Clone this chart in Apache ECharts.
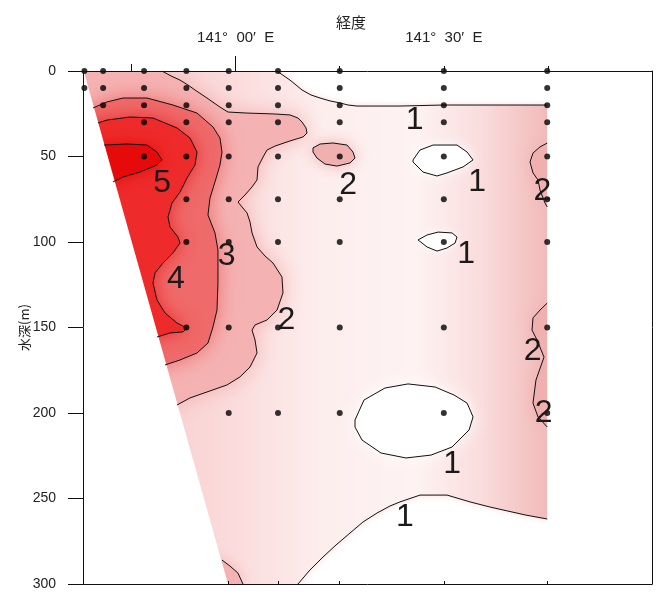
<!DOCTYPE html>
<html><head><meta charset="utf-8">
<script src="https://cdn.jsdelivr.net/npm/echarts@6/dist/echarts.min.js"></script>
<style>html,body{margin:0;padding:0;background:#fff}#c{width:656px;height:596px}</style>
</head><body><div id="c"></div>
<script>
// ---------- DATA (longitude in minutes east of 141°00′E, depth in m) ----------
const lonLabelValues = [0, 30];
const lonLabelTexts = ['141°  00′  E', '141°  30′  E'];
const lonMajorTick = [0];
const lonMinorTick = [-15];
const lonStationTopTicks = [15, 30, 45];
const lonBottomTicks = [-1.0, 6.1, 15.0, 30.0, 44.9];

const stationLon = [-21.8, -19.1, -13.2, -7.1, -1.0, 6.1, 15.0, 30.0, 44.9];
const stationDepths = [
  [0, 10],
  [0, 10, 20],
  [0, 10, 20, 30, 50],
  [0, 10, 20, 30, 50, 75, 100, 150],
  [0, 10, 20, 30, 50, 75, 100, 150, 200],
  [0, 10, 20, 30, 50, 75, 100, 150, 200],
  [0, 10, 20, 30, 50, 75, 100, 150, 200],
  [0, 10, 20, 30, 50, 75, 100, 150, 200],
  [0, 10, 20, 30, 50, 75, 100, 150, 200]
];

const seabed = [[-21.9, 0], [-1.1, 300]];
const sectionEastLon = 44.9;

const c1Top = [[5.96,0],[6.97,2.9],[7.83,5.3],[8.7,8.2],[9.56,11.1],[10.85,14.0],[12.16,15.8],[13.6,17.5],[15.04,18.7],[16.2,19.9],[17.49,20.5],[23.68,20.5],[29.88,19.9],[44.9,19.9]];
const c1Bottom = [[8.98,300],[10.71,291.8],[12.59,284.2],[14.46,277.2],[16.48,270.2],[18.36,263.7],[20.37,258.5],[22.24,254.4],[23.68,252.0],[26.57,248.0],[30.46,248.0],[33.78,252.0],[36.67,255.0],[38.53,256.7],[41.7,259.6],[44.9,262.0]];
const c1Loop50 = [[25.56,52.0],[26.57,46.2],[28.45,43.3],[31.90,43.3],[33.35,47.4],[34.21,52.0],[32.77,56.1],[30.46,59.6],[29.02,61.4],[27.0,59.1],[25.56,53.2],[25.56,52.0]];
const c1Loop100 = [[26.28,98.8],[27.58,95.9],[29.17,94.2],[31.18,94.7],[31.90,97.1],[31.62,100.6],[30.46,103.5],[29.02,105.3],[27.58,102.9],[26.28,98.8]];
const c1Loop200 = [[17.20,204.1],[18.50,192.4],[21.52,185.4],[24.84,183.0],[28.74,184.8],[31.47,189.5],[33.35,194.2],[34.21,202.3],[33.64,209.9],[31.18,219.9],[28.16,224.6],[24.55,226.3],[20.95,223.4],[18.21,215.8],[17.20,208.2],[17.20,204.1]];

const c2Main = [[-10.62,0],[-9.32,2.9],[-8.02,5.3],[-6.87,8.2],[-5.86,11.1],[-4.13,15.8],[-2.26,21.1],[-1.10,24.0],[1.64,24.6],[5.39,25.1],[7.83,25.7],[8.98,27.5],[9.56,29.8],[10.14,33.3],[10.28,36.3],[9.70,38.6],[7.83,40.9],[5.67,43.9],[4.52,46.2],[3.95,50.3],[3.22,56.1],[3.08,63.7],[2.36,67.8],[1.35,72.5],[0.34,76.6],[0.91,79.5],[1.64,83.0],[2.07,88.3],[2.36,94.7],[3.08,102.9],[4.23,108.2],[5.39,112.3],[6.68,120.5],[6.82,129.8],[5.96,139.8],[4.52,145.6],[2.79,148.5],[2.36,151.5],[2.79,157.3],[3.08,164.9],[2.07,173.1],[0.62,178.9],[-1.25,183.6],[-4.13,187.7],[-6.58,191.2],[-8.45,195.3]];
const c2Loop50 = [[11.15,45.0],[12.16,42.7],[14.03,42.1],[16.05,43.3],[16.91,47.4],[17.20,50.9],[16.48,53.8],[14.60,55.6],[12.87,54.4],[11.72,50.9],[11.15,47.4],[11.15,45.0]];
const c2East50 = [[44.9,42.1],[43.86,44.4],[42.85,48.0],[42.42,53.2],[42.85,59.6],[43.57,63.7],[43.86,69.6],[44.58,77.2],[44.9,79.5]];
const c2East150 = [[44.9,135.7],[43.86,139.8],[42.85,144.4],[42.71,151.5],[43.43,157.3],[44.44,167.3],[43.28,180.7],[42.85,194.2],[43.57,202.3],[44.9,208.2]];
const c2Bottom = [[-1.97,286.0],[-0.82,289.5],[0.33,293.6],[1.06,300]];

const c3 = [[-20.56,21.6],[-18.54,18.1],[-16.24,15.8],[-12.78,15.8],[-9.03,19.9],[-5.57,24.6],[-3.27,32.7],[-2.26,39.2],[-1.97,47.4],[-2.26,55.0],[-2.98,64.9],[-3.70,74.3],[-3.99,84.2],[-2.98,94.7],[-2.55,104.7],[-2.55,124.0],[-2.69,139.8],[-3.27,149.7],[-3.99,159.1],[-5.57,164.9],[-8.02,169.0],[-10.18,171.9]];
const c4 = [[-19.84,30.4],[-18.54,28.7],[-15.23,26.9],[-11.91,27.5],[-8.45,33.3],[-6.58,39.2],[-5.57,47.4],[-5.86,55.0],[-7.01,62.6],[-8.02,70.8],[-9.17,77.2],[-9.75,85.4],[-9.46,91.2],[-8.31,97.1],[-8.02,100.6],[-9.03,106.4],[-10.47,112.3],[-11.62,118.1],[-11.91,124.0],[-11.34,133.9],[-10.18,141.5],[-8.45,147.4],[-7.01,150.3],[-7.59,152.6],[-9.46,153.2],[-11.34,155.6]];
const c5 = [[-18.97,43.3],[-15.66,42.7],[-12.78,43.3],[-11.34,47.4],[-10.62,52.0],[-11.34,55.0],[-13.79,59.1],[-16.24,62.0],[-17.68,64.9]];

const contourLabelPos = [[-10.6,65.5],[-8.6,122],[-1.3,108],[7.3,146],[16.2,67],[25.8,29],[34.8,65],[33.2,107],[44.2,70],[42.8,164],[44.4,200],[31.2,230],[24.4,261]];
const contourLabelText = ['5','4','3','2','2','1','1','1','2','2','2','1','1'];

// ---------- CHART ----------
const X_MIN = -22, X_MAX = 60;
const FONT = "'Liberation Sans','DejaVu Sans',sans-serif";
const JFONT = "'Noto Sans CJK JP','Noto Sans CJK SC',sans-serif";

function areaSeries(points, fill, blur, shadowColor) {
  return {
    type: 'custom', clip: true, silent: true, z: 2, data: points,
    renderItem: function (params, api) {
      if (params.dataIndex !== 0) return null;
      const pts = points.map(p => api.coord(p));
      return { type: 'polygon', shape: { points: pts },
        style: { fill: fill, shadowBlur: blur, shadowColor: shadowColor || (typeof fill === 'string' ? fill : '#f6d0d0') } };
    }
  };
}
function lineSeries(points) {
  return { type: 'line', data: points, symbol: 'none', silent: true, z: 5,
    lineStyle: { color: '#111', width: 1 } };
}

const stationPoints = [];
stationLon.forEach((lon, i) => stationDepths[i].forEach(d => stationPoints.push([lon, d])));

const band1 = [[X_MIN, 0], ...c1Top, ...c1Bottom.slice().reverse(), [X_MIN, 300]];
const band2Main = [...c2Main, [X_MIN, c2Main[c2Main.length-1][1]], [X_MIN, 0]];
const band2Bottom = [...c2Bottom, [X_MIN, 300], [X_MIN, c2Bottom[0][1]]];
const band3 = [...c3, [X_MIN, c3[c3.length-1][1]], [X_MIN, c3[0][1]]];
const band4 = [...c4, [X_MIN, c4[c4.length-1][1]], [X_MIN, c4[0][1]]];
const band5 = [...c5, [X_MIN, c5[c5.length-1][1]], [X_MIN, c5[0][1]]];
const maskWest = [[X_MIN, 0], seabed[0], seabed[1], [X_MIN, 300]];
const maskEast = [[sectionEastLon, 0], [X_MAX, 0], [X_MAX, 300], [sectionEastLon, 300]];

const band1Fill = new echarts.graphic.LinearGradient(0, 0, 1, 0, [
  { offset: 0, color: '#f6c4c4' }, { offset: 0.33, color: '#fbdcdc' },
  { offset: 0.52, color: '#fdeeee' }, { offset: 0.72, color: '#fef2f2' },
  { offset: 0.86, color: '#fadcdc' }, { offset: 1, color: '#f2baba' }]);

const chart = echarts.init(document.getElementById('c'), null, { renderer: 'canvas' });
const axisLineStyle = { color: '#111', width: 1 };
const xBase = { type: 'value', min: X_MIN, max: X_MAX, z: 10, splitLine: { show: false } };

chart.setOption({
  animation: false,
  backgroundColor: '#fff',
  title: { text: '経度', left: 331, top: 10,
    textStyle: { fontFamily: JFONT, fontSize: 15, fontWeight: 'normal', color: '#222' } },
  grid: { left: 83, right: 4, top: 71, bottom: 12 },
  xAxis: [
    Object.assign({}, xBase, { position: 'top',
      axisLine: { show: true, onZero: false, lineStyle: axisLineStyle },
      axisTick: { show: true, customValues: lonMajorTick, length: 15, lineStyle: axisLineStyle },
      axisLabel: { show: true, customValues: lonLabelValues, margin: 26, fontSize: 15, color: '#222', fontFamily: FONT,
        formatter: v => lonLabelTexts[lonLabelValues.indexOf(v)] || '' } }),
    Object.assign({}, xBase, { position: 'top', axisLine: { show: false, onZero: false },
      axisTick: { show: true, customValues: lonMinorTick, length: 7, lineStyle: axisLineStyle }, axisLabel: { show: false } }),
    Object.assign({}, xBase, { position: 'top', axisLine: { show: false, onZero: false },
      axisTick: { show: true, customValues: lonStationTopTicks, length: 5, lineStyle: axisLineStyle }, axisLabel: { show: false } }),
    Object.assign({}, xBase, { position: 'bottom', axisLine: { show: true, onZero: false, lineStyle: axisLineStyle },
      axisTick: { show: true, inside: true, customValues: lonBottomTicks, length: 3, lineStyle: axisLineStyle }, axisLabel: { show: false } })
  ],
  yAxis: [
    { type: 'value', inverse: true, min: 0, max: 300, interval: 50, position: 'left', z: 10,
      axisLine: { show: true, onZero: false, lineStyle: axisLineStyle },
      axisTick: { show: true, length: 15, lineStyle: axisLineStyle },
      axisLabel: { margin: 27, fontSize: 14, color: '#222', fontFamily: FONT },
      splitLine: { show: false },
      name: '水深(m)', nameLocation: 'middle', nameGap: 52, nameMoveOverlap: false,
      nameTextStyle: { fontFamily: JFONT, fontSize: 13, color: '#222' } },
    { type: 'value', inverse: true, min: 0, max: 300, position: 'right', z: 10,
      axisLine: { show: true, onZero: false, lineStyle: axisLineStyle }, axisTick: { show: false },
      axisLabel: { show: false }, splitLine: { show: false } }
  ],
  series: [
    areaSeries(band1, band1Fill, 6, '#f8d4d4'),
    areaSeries(c1Loop50, '#ffffff', 14, '#ffffff'),
    areaSeries(c1Loop100, '#ffffff', 10, '#ffffff'),
    areaSeries(c1Loop200, '#ffffff', 18, '#ffffff'),
    areaSeries(band2Main, '#f5b2b2', 20),
    areaSeries(c2Loop50, '#f0b0b0', 16),
    areaSeries(c2East50, '#f0b0b0', 16),
    areaSeries(c2East150, '#f0b0b0', 16),
    areaSeries(band2Bottom, '#f4b2b2', 14),
    areaSeries(band3, '#ef6a6a', 20),
    areaSeries(band4, '#ee2a2a', 18),
    areaSeries(band5, '#e60a0a', 14),
    areaSeries(maskWest, '#ffffff', 0),
    areaSeries(maskEast, '#ffffff', 0),
    lineSeries(c1Top), lineSeries(c1Bottom), lineSeries(c1Loop50), lineSeries(c1Loop100), lineSeries(c1Loop200),
    lineSeries(c2Main), lineSeries(c2Loop50), lineSeries(c2East50), lineSeries(c2East150), lineSeries(c2Bottom),
    lineSeries(c3), lineSeries(c4), lineSeries(c5),
    { type: 'scatter', data: stationPoints, symbol: 'circle', symbolSize: 6, z: 6, silent: true,
      itemStyle: { color: '#000' } },
    { type: 'custom', data: contourLabelPos, z: 7, silent: true,
      renderItem: function (params, api) {
        const p = api.coord([api.value(0), api.value(1)]);
        return { type: 'text', x: p[0], y: p[1],
          style: { text: contourLabelText[params.dataIndex], fill: '#1a1a1a',
            font: "32px 'Liberation Sans', sans-serif", align: 'center', verticalAlign: 'middle' } };
      } }
  ]
});
</script></body></html>
